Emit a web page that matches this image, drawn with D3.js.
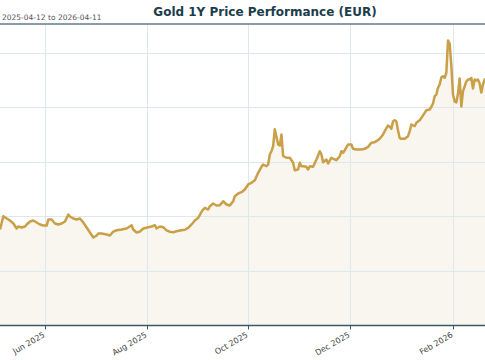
<!DOCTYPE html>
<html><head><meta charset="utf-8">
<script src="https://cdn.jsdelivr.net/npm/d3@7"></script>
<style>body{margin:0;background:#fff} svg{display:block;font-family:"DejaVu Sans",sans-serif}</style>
</head><body><svg id="c" width="485" height="360"></svg>
<script>
const title = "Gold 1Y Price Performance (EUR)";
const subtitle = "2025-04-12 to 2026-04-11";
const period = ["2025-04-12", "2026-04-11"];

const dates = [
"2025-05-05","2025-05-07","2025-05-09","2025-05-11","2025-05-13","2025-05-15","2025-05-16","2025-05-18","2025-05-20","2025-05-21",
"2025-05-23","2025-05-25","2025-05-27","2025-05-29","2025-05-31","2025-06-02","2025-06-03","2025-06-05","2025-06-07","2025-06-09",
"2025-06-11","2025-06-13","2025-06-15","2025-06-16","2025-06-18","2025-06-20","2025-06-22","2025-06-24","2025-06-26","2025-06-28",
"2025-06-30","2025-07-02","2025-07-03","2025-07-05","2025-07-08","2025-07-10","2025-07-12","2025-07-14","2025-07-17","2025-07-20",
"2025-07-23","2025-07-24","2025-07-26","2025-07-28","2025-07-30","2025-08-02","2025-08-04","2025-08-06","2025-08-07","2025-08-09",
"2025-08-11","2025-08-13","2025-08-15","2025-08-17","2025-08-19","2025-08-21","2025-08-24","2025-08-26","2025-08-28","2025-08-30",
"2025-09-01","2025-09-03","2025-09-04","2025-09-05","2025-09-07","2025-09-08","2025-09-10","2025-09-12","2025-09-14","2025-09-16",
"2025-09-18","2025-09-20","2025-09-22","2025-09-23","2025-09-25","2025-09-27","2025-09-29","2025-10-01","2025-10-03","2025-10-05",
"2025-10-07","2025-10-09","2025-10-10","2025-10-12","2025-10-13","2025-10-14","2025-10-15","2025-10-16","2025-10-17","2025-10-19",
"2025-10-20","2025-10-21","2025-10-22","2025-10-24","2025-10-26","2025-10-28","2025-10-29","2025-10-31","2025-11-01","2025-11-02",
"2025-11-03","2025-11-05","2025-11-06","2025-11-07","2025-11-09","2025-11-11","2025-11-12","2025-11-13","2025-11-14","2025-11-15",
"2025-11-17","2025-11-18","2025-11-20","2025-11-22","2025-11-23","2025-11-25","2025-11-26","2025-11-27","2025-11-28","2025-11-30",
"2025-12-02","2025-12-03","2025-12-05","2025-12-08","2025-12-10","2025-12-12","2025-12-14","2025-12-16","2025-12-17","2025-12-19",
"2025-12-21","2025-12-22","2025-12-24","2025-12-25","2025-12-26","2025-12-27","2025-12-28","2025-12-29","2025-12-30","2025-12-31",
"2026-01-01","2026-01-03","2026-01-05","2026-01-06","2026-01-07","2026-01-09","2026-01-10","2026-01-12","2026-01-13","2026-01-15",
"2026-01-16","2026-01-18","2026-01-19","2026-01-20","2026-01-21","2026-01-22","2026-01-23","2026-01-24","2026-01-25","2026-01-26",
"2026-01-27","2026-01-28","2026-01-29","2026-01-30","2026-01-31","2026-02-01","2026-02-02","2026-02-03","2026-02-04","2026-02-05",
"2026-02-06","2026-02-07","2026-02-08","2026-02-09","2026-02-10","2026-02-11","2026-02-12","2026-02-13","2026-02-14","2026-02-15",
"2026-02-16","2026-02-17","2026-02-18","2026-02-19","2026-02-20","2026-02-21"
];
const prices = [
2881,3003,2982,2963,2936,2890,2908,2899,2908,2927,
2954,2963,2945,2927,2917,2917,2972,2972,2936,2927,
2936,2954,3018,3000,2982,2972,2982,2945,2899,2853,
2807,2826,2844,2844,2835,2826,2862,2874,2881,2890,
2920,2881,2853,2862,2890,2902,2908,2920,2890,2908,
2902,2872,2860,2856,2865,2872,2878,2896,2927,2963,
2988,3043,3064,3080,3064,3094,3119,3101,3104,3140,
3110,3101,3140,3186,3211,3223,3248,3294,3309,3333,
3401,3456,3477,3461,3477,3569,3599,3645,3800,3661,
3651,3752,3555,3539,3539,3493,3425,3431,3493,3461,
3461,3456,3431,3461,3456,3523,3560,3599,3569,3498,
3523,3486,3539,3523,3517,3553,3599,3584,3608,3661,
3661,3621,3615,3615,3621,3639,3676,3682,3691,3713,
3752,3783,3835,3823,3805,3874,3883,3872,3789,3720,
3713,3713,3737,3783,3844,3828,3860,3883,3905,3951,
3975,3982,4006,4037,4104,4119,4181,4211,4275,4287,
4272,4318,4615,4587,4385,4119,4055,4046,4128,4266,
4009,4147,4193,4239,4257,4257,4271,4174,4257,4248,
4257,4220,4138,4211,4257,4266
];

const xTickDates = ["2025-06-01","2025-08-01","2025-10-01","2025-12-01","2026-02-01"];
const xTickLabels = ["Jun 2025","Aug 2025","Oct 2025","Dec 2025","Feb 2026"];
const yTicks = [2500, 3000, 3500, 4000, 4500];
const yDomain = [2000, 4766];

const svg = d3.select("#c");
const W = 485;
const plotTop = 24, plotBottom = 325.5;
const parse = d3.utcParse("%Y-%m-%d");
const data = dates.map((d, i) => ({date: parse(d), value: prices[i]}));

const x = d3.scaleUtc().domain(period.map(parse)).range([-38.27, 567.9]);
const y = d3.scaleLinear().domain(yDomain).range([plotBottom, plotTop]);

const defs = svg.append("defs");
defs.append("clipPath").attr("id","clip").append("rect")
  .attr("x", x.range()[0]).attr("y", plotTop).attr("width", x.range()[1]-x.range()[0]).attr("height", plotBottom-plotTop);

const plot = svg.append("g").attr("clip-path","url(#clip)");

plot.append("path").datum(data)
  .attr("d", d3.area().x(d => x(d.date)).y0(plotBottom).y1(d => y(d.value)))
  .attr("fill", "#f9f6ef");

plot.append("g").selectAll("line").data(yTicks).join("line")
  .attr("x1", x.range()[0]).attr("x2", x.range()[1])
  .attr("y1", d => Math.round(y(d))+0.5).attr("y2", d => Math.round(y(d))+0.5)
  .attr("stroke", "#dde8ec").attr("stroke-width", 1);
plot.append("g").selectAll("line").data(xTickDates).join("line")
  .attr("x1", d => Math.round(x(parse(d)))+0.5).attr("x2", d => Math.round(x(parse(d)))+0.5)
  .attr("y1", plotTop).attr("y2", plotBottom)
  .attr("stroke", "#dde8ec").attr("stroke-width", 1);

plot.append("path").datum(data)
  .attr("d", d3.line().x(d => x(d.date)).y(d => y(d.value)))
  .attr("fill", "none").attr("stroke", "#c99f48").attr("stroke-width", 2.5)
  .attr("stroke-linejoin", "round");

svg.append("line").attr("x1", 0).attr("x2", W).attr("y1", plotTop).attr("y2", plotTop)
  .attr("stroke", "#617d89").attr("stroke-width", 1.4);
svg.append("line").attr("x1", 0).attr("x2", W).attr("y1", plotBottom).attr("y2", plotBottom)
  .attr("stroke", "#3f5864").attr("stroke-width", 1.4);

const xt = svg.append("g").selectAll("g").data(xTickDates).join("g")
  .attr("transform", d => `translate(${Math.round(x(parse(d)))+0.5},${plotBottom})`);
xt.append("line").attr("y1", 0).attr("y2", 4).attr("stroke", "#3f5864").attr("stroke-width", 1);
xt.append("text").text((d, i) => xTickLabels[i])
  .attr("transform", "translate(0,11) rotate(-30)")
  .attr("text-anchor", "end").attr("font-size", 8).attr("fill", "#444");

svg.append("text").text(title).attr("x", 265).attr("y", 16)
  .attr("text-anchor", "middle").attr("font-size", 12).attr("font-weight", "bold").attr("fill", "#1b3d4c");
svg.append("text").text(subtitle).attr("x", 2).attr("y", 20)
  .attr("font-size", 7.5).attr("fill", "#555");
</script></body></html>
